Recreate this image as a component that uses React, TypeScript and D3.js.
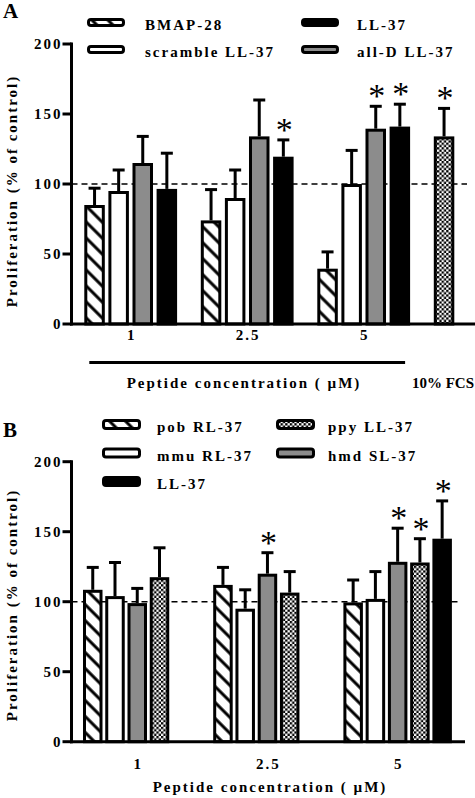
import React from 'react';
import * as d3 from 'd3';

// ---------- data ----------
const groupsA = ['1', '2.5', '5'];
const seriesA = ['BMAP-28', 'scramble LL-37', 'all-D LL-37', 'LL-37'];
const fillsA = ['hatch', 'white', 'gray', 'black'];
const valuesA = [
  [85, 74, 39.5],
  [95, 90, 100],
  [115, 134, 139.5],
  [96.5, 119.5, 141],
];
const errorsA = [
  [12, 22, 12],
  [15, 20, 24],
  [19, 26, 16],
  [25.5, 12, 16],
];
const sigA = [
  [false, false, false],
  [false, false, false],
  [false, false, true],
  [false, true, true],
];
const legendA = ['BMAP-28', 'scramble LL-37', 'LL-37', 'all-D LL-37'];
const fcsLabel = '10% FCS';
const fcsValue = 134;
const fcsError = 20;
const fcsSig = true;

const groupsB = ['1', '2.5', '5'];
const seriesB = ['pob RL-37', 'mmu RL-37', 'hmd SL-37', 'ppy LL-37', 'LL-37'];
const fillsB = ['hatch', 'white', 'gray', 'checker', 'black'];
const valuesB: (number | null)[][] = [
  [108.5, 112, 99.5],
  [104, 95, 102],
  [99, 120, 128.5],
  [117.5, 106.5, 128],
  [null, null, 145],
];
const errorsB: (number | null)[][] = [
  [16, 12.5, 16],
  [24, 13.5, 19.5],
  [10.5, 15, 24],
  [21, 15, 17],
  [null, null, 27],
];
const sigB = [
  [false, false, false],
  [false, false, false],
  [false, true, true],
  [false, false, true],
  [false, false, true],
];
const legendB = ['pob RL-37', 'mmu RL-37', 'LL-37', 'ppy LL-37', 'hmd SL-37'];

const yTicks = [0, 50, 100, 150, 200];
const yTitle = 'Proliferation (% of control)';
const xTitle = 'Peptide concentration ( \u00b5M)';

// ---------- style ----------
const FONT = "'Liberation Serif', 'Times New Roman', serif";
const GRAY = '#8c8c8c';
const fillOf = (f: string) =>
  f === 'hatch' ? 'url(#hatch)' : f === 'checker' ? 'url(#checker)' : f === 'gray' ? GRAY : f === 'black' ? '#000' : '#fff';

const txt = {
  fontFamily: FONT,
  fontWeight: 700 as const,
  fontSize: 15,
  letterSpacing: 2,
};

function Bar({ x, w, y, y0, fill }: any) {
  return (
    <rect x={x + 1.5} y={y + 1.5} width={w - 3} height={Math.max(0, y0 - y - 1.5)} fill={fillOf(fill)} stroke="#000" strokeWidth={3} />
  );
}

function ErrBar({ cx, yv, ye, sig }: any) {
  return (
    <g>
      <line x1={cx} x2={cx} y1={yv} y2={ye} stroke="#000" strokeWidth={3} />
      <line x1={cx - 6} x2={cx + 6} y1={ye} y2={ye} stroke="#000" strokeWidth={3} />
      {sig && (
        <text x={cx + 1} y={ye + 1} textAnchor="middle" fontFamily={FONT} fontSize={34}>
          *
        </text>
      )}
    </g>
  );
}

function YAxis({ y, x0, label }: any) {
  return (
    <g>
      <line x1={x0} x2={x0} y1={y(200) - 1.5} y2={y(0) + 1.5} stroke="#000" strokeWidth={3} />
      {yTicks.map((t) => (
        <g key={t}>
          <line x1={x0 - 9} x2={x0} y1={y(t)} y2={y(t)} stroke="#000" strokeWidth={3} />
          <text x={x0 - 9} y={y(t) + 5} textAnchor="end" {...txt}>
            {t}
          </text>
        </g>
      ))}
      <text transform={`translate(17,${label}) rotate(-90)`} textAnchor="middle" {...txt}>
        {yTitle}
      </text>
    </g>
  );
}

function Swatch({ x, y, w, h, fill }: any) {
  return <rect x={x + 1.5} y={y - h / 2 + 1.5} width={w - 3} height={h - 3} rx={2.5} fill={fillOf(fill)} stroke="#000" strokeWidth={3} />;
}

export default function App() {
  // ---------- panel A scales ----------
  const yA = d3.scaleLinear().domain([0, 200]).range([324, 44]);
  const stepA = 116.5;
  const bandA = 92.8;
  const pA = 1 - bandA / stepA;
  const xA = d3
    .scaleBand<string>()
    .domain([...groupsA, 'FCS'])
    .range([84.3, 84.3 + stepA * (4 - pA)])
    .paddingInner(pA);
  const xiA = d3.scaleBand<number>().domain(d3.range(seriesA.length)).range([0, xA.bandwidth()]).paddingInner(0.149);

  // ---------- panel B scales ----------
  const yB = d3.scaleLinear().domain([0, 200]).range([741.7, 461.7]);
  const stepB = 130.2;
  const bandB = 108.5;
  const pB = 1 - bandB / stepB;
  const xB = d3
    .scaleBand<string>()
    .domain(groupsB)
    .range([83, 83 + stepB * (3 - pB)])
    .paddingInner(pB);
  const xiB = d3.scaleBand<number>().domain(d3.range(seriesB.length)).range([0, xB.bandwidth()]).paddingInner(0.1236);

  const axX = 71.5;

  const barsA: any[] = [];
  seriesA.forEach((s, si) => {
    groupsA.forEach((g, gi) => {
      const x = (xA(g) as number) + (xiA(si) as number);
      barsA.push({ key: `${s}-${g}`, x, w: xiA.bandwidth(), v: valuesA[si][gi], e: errorsA[si][gi], sig: sigA[si][gi], fill: fillsA[si] });
    });
  });
  barsA.push({ key: 'fcs', x: (xA('FCS') as number) + (xiA(0) as number), w: xiA.bandwidth(), v: fcsValue, e: fcsError, sig: fcsSig, fill: 'checker' });

  const barsB: any[] = [];
  seriesB.forEach((s, si) => {
    groupsB.forEach((g, gi) => {
      const v = valuesB[si][gi];
      if (v == null) return;
      const x = (xB(g) as number) + (xiB(si) as number);
      barsB.push({ key: `${s}-${g}`, x, w: xiB.bandwidth(), v, e: errorsB[si][gi], sig: sigB[si][gi], fill: fillsB[si] });
    });
  });

  const legendFillA = (l: string) => fillsA[seriesA.indexOf(l)];
  const legendFillB = (l: string) => fillsB[seriesB.indexOf(l)];

  const fcsCenter = (xA('FCS') as number) + (xiA(0) as number) + xiA.bandwidth() / 2;

  return (
    <svg width={475} height={798} style={{ position: 'absolute', left: 0, top: 0, background: '#fff' }}>
      <defs>
        <pattern id="hatch" patternUnits="userSpaceOnUse" width={11.3} height={11.3} patternTransform="rotate(-45)">
          <rect width={11.3} height={11.3} fill="#fff" />
          <line x1={5.65} x2={5.65} y1={0} y2={11.3} stroke="#000" strokeWidth={3} />
        </pattern>
        <pattern id="checker" patternUnits="userSpaceOnUse" width={4.6} height={4.6}>
          <rect width={4.6} height={4.6} fill="#fff" />
          <rect width={2.3} height={2.3} fill="#000" />
          <rect x={2.3} y={2.3} width={2.3} height={2.3} fill="#000" />
        </pattern>
      </defs>

      {/* ---------------- Panel A ---------------- */}
      <text x={3} y={18} fontFamily={FONT} fontWeight={700} fontSize={21}>
        A
      </text>
      {legendA.map((l, i) => {
        const col = Math.floor(i / 2);
        const row = i % 2;
        const sx = col === 0 ? 87 : 301;
        const tx = col === 0 ? 145 : 357;
        const cy = 22.5 + row * 27;
        return (
          <g key={l}>
            <Swatch x={sx} y={cy} w={38} h={9} fill={legendFillA(l)} />
            <text x={tx} y={cy + 7.5} {...txt}>
              {l}
            </text>
          </g>
        );
      })}
      <line x1={axX} x2={467} y1={yA(100)} y2={yA(100)} stroke="#000" strokeWidth={1.5} strokeDasharray="6 4" />
      {barsA.map((b) => (
        <g key={b.key}>
          <Bar x={b.x} w={b.w} y={yA(b.v)} y0={yA(0)} fill={b.fill} />
          <ErrBar cx={b.x + b.w / 2} yv={yA(b.v)} ye={yA(b.v + b.e)} sig={b.sig} />
        </g>
      ))}
      <YAxis y={yA} x0={axX} label={191} />
      <line x1={axX - 1.5} x2={475} y1={yA(0)} y2={yA(0)} stroke="#000" strokeWidth={3} />
      {groupsA.map((g) => (
        <text key={g} x={(xA(g) as number) + xA.bandwidth() / 2 + 1} y={340} textAnchor="middle" {...txt}>
          {g}
        </text>
      ))}
      <line x1={(xA(groupsA[0]) as number) + 5} x2={(xA(groupsA[2]) as number) + xA.bandwidth() - 5} y1={362.5} y2={362.5} stroke="#000" strokeWidth={3} />
      <text x={244} y={388} textAnchor="middle" {...txt}>
        {xTitle}
      </text>
      <text x={Math.min(fcsCenter, 443)} y={388} textAnchor="middle" {...txt} letterSpacing={0}>
        {fcsLabel}
      </text>

      {/* ---------------- Panel B ---------------- */}
      <text x={3} y={437} fontFamily={FONT} fontWeight={700} fontSize={21}>
        B
      </text>
      {legendB.map((l, i) => {
        const col = Math.floor(i / 3);
        const row = i % 3;
        const sx = col === 0 ? 102 : 276;
        const tx = col === 0 ? 157 : 328;
        const cy = 424.5 + row * 28.5;
        return (
          <g key={l}>
            <Swatch x={sx} y={cy} w={39} h={11} fill={legendFillB(l)} />
            <text x={tx} y={cy + 7.5} {...txt}>
              {l}
            </text>
          </g>
        );
      })}
      <line x1={axX} x2={460} y1={yB(100)} y2={yB(100)} stroke="#000" strokeWidth={1.5} strokeDasharray="6 4" />
      {barsB.map((b) => (
        <g key={b.key}>
          <Bar x={b.x} w={b.w} y={yB(b.v)} y0={yB(0)} fill={b.fill} />
          <ErrBar cx={b.x + b.w / 2} yv={yB(b.v)} ye={yB(b.v + b.e)} sig={b.sig} />
        </g>
      ))}
      <YAxis y={yB} x0={axX} label={605} />
      <line x1={axX - 1.5} x2={465} y1={yB(0)} y2={yB(0)} stroke="#000" strokeWidth={3} />
      {groupsB.map((g) => (
        <text key={g} x={(xB(g) as number) + xB.bandwidth() / 2 + 1} y={769} textAnchor="middle" {...txt}>
          {g}
        </text>
      ))}
      <text x={270} y={792} textAnchor="middle" {...txt}>
        {xTitle}
      </text>
    </svg>
  );
}
